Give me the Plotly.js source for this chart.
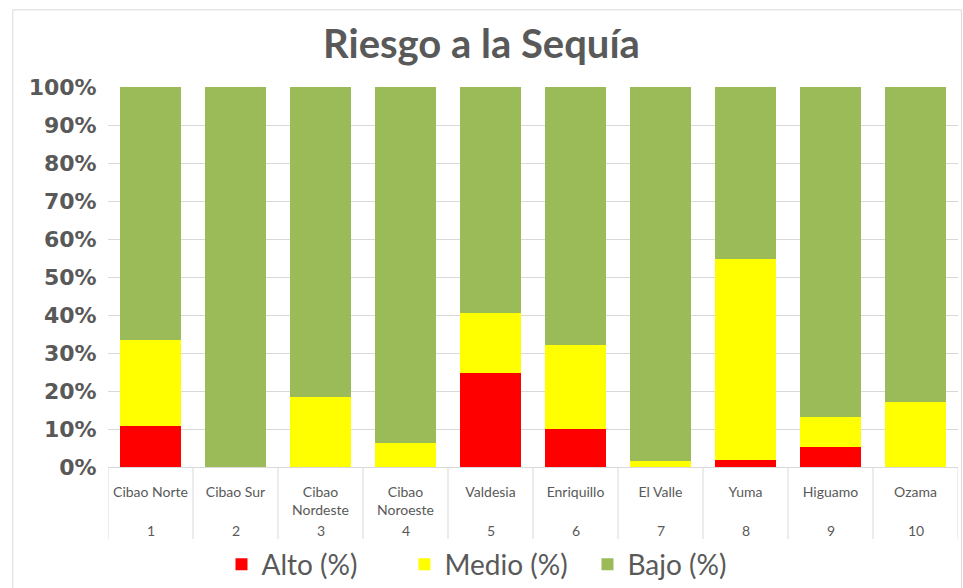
<!DOCTYPE html>
<html>
<head>
<meta charset="utf-8">
<script src="https://cdn.plot.ly/plotly-3.0.1.min.js"></script>
<style>
  html, body { margin: 0; padding: 0; background: #fff; }
  #chart { width: 963px; height: 588px; }
</style>
</head>
<body>
<div id="chart"></div>
<script>
var regionNums = ["1", "2", "3", "4", "5", "6", "7", "8", "9", "10"];
var regionNames = ["Cibao Norte", "Cibao Sur", "Cibao<br>Nordeste", "Cibao<br>Noroeste",
    "Valdesia", "Enriquillo", "El Valle", "Yuma", "Higuamo", "Ozama"];

var alto = [10.8, 0, 0, 0, 24.7, 10.0, 0, 1.9, 5.3, 0];
var medio = [22.6, 0, 18.4, 6.3, 15.8, 22.1, 1.7, 52.8, 7.9, 17.1];
var bajo = [66.6, 100, 81.6, 93.7, 59.5, 67.9, 98.3, 45.3, 86.8, 82.9];

var TEXT = '#595959';
var FONT = 'Lato, "Open Sans", sans-serif';

function series(name, vals, color) {
    return {
        type: 'bar',
        name: name,
        x: regionNums,
        y: vals,
        marker: { color: color },
        hoverinfo: 'y+name'
    };
}

var data = [
    series('Alto (%)', alto, '#ff0000'),
    series('Medio (%)', medio, '#ffff00'),
    series('Bajo (%)', bajo, '#9bbb59')
];

// second row of category labels (region numbers) under the names
var numberNotes = regionNums.map(function (n, i) {
    return {
        x: i, xref: 'x',
        y: -0.166, yref: 'paper', yanchor: 'middle',
        text: n, showarrow: false,
        font: { family: FONT, size: 14, color: TEXT }
    };
});

// light vertical dividers between categories, below the axis
var dividers = [];
for (var i = 0; i <= regionNums.length; i++) {
    dividers.push({
        type: 'line',
        xref: 'x', yref: 'paper',
        x0: i - 0.5, x1: i - 0.5, y0: 0, y1: -0.19,
        line: { color: '#d9d9d9', width: 1 }
    });
}

var layout = {
    width: 963,
    height: 588,
    margin: { l: 108, r: 5, t: 87, b: 121 },
    paper_bgcolor: '#fff',
    plot_bgcolor: '#fff',
    barmode: 'stack',
    bargap: 0.29,
    showlegend: true,
    title: {
        text: '<b>Riesgo a la Sequía</b>',
        font: { family: FONT, size: 40, color: TEXT },
        x: 0.5,
        xanchor: 'center',
        y: 0.925,
        yanchor: 'middle'
    },
    xaxis: {
        type: 'category',
        tickvals: regionNums,
        ticktext: regionNames,
        tickfont: { family: FONT, size: 14, color: TEXT },
        ticks: 'outside',
        ticklen: 12,
        tickcolor: 'rgba(0,0,0,0)',
        showline: true,
        linecolor: '#d9d9d9',
        showgrid: false,
        automargin: false,
        range: [-0.5, 9.5]
    },
    yaxis: {
        range: [0, 100],
        dtick: 10,
        ticksuffix: '%',
        tickfont: { family: '"DejaVu Sans", Verdana, sans-serif', size: 22, color: TEXT, weight: 'bold' },
        gridcolor: '#d9d9d9',
        zeroline: false,
        showline: false,
        ticklen: 6,
        ticks: 'outside',
        tickcolor: 'rgba(0,0,0,0)',
        automargin: false
    },
    legend: {
        orientation: 'h',
        x: 0.23,
        xref: 'container',
        xanchor: 'left',
        y: 0.04,
        yref: 'container',
        yanchor: 'middle',
        font: { family: FONT, size: 28, color: TEXT },
        itemwidth: 30,
        entrywidth: 138,
        entrywidthmode: 'pixels',
        traceorder: 'normal'
    },
    annotations: numberNotes,
    shapes: dividers.concat([{
        type: 'rect',
        xref: 'paper', yref: 'paper',
        x0: -0.112, x1: 1.004, y0: -0.35, y1: 1.203,
        line: { color: '#d9d9d9', width: 1 },
        layer: 'below'
    }])
};

Plotly.newPlot('chart', data, layout, { displayModeBar: false });
</script>
</body>
</html>
